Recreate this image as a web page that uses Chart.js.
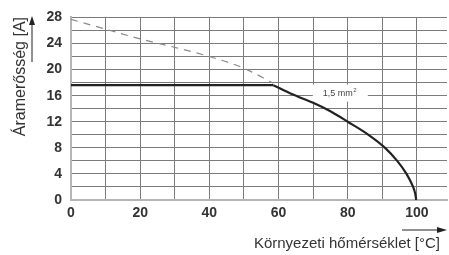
<!DOCTYPE html>
<html>
<head>
<meta charset="utf-8">
<script src="https://cdn.jsdelivr.net/npm/chart.js@4.4.0/dist/chart.umd.min.js"></script>
<style>
  html, body { margin: 0; padding: 0; background: #fff; }
  #wrap { width: 449px; height: 255px; position: relative; }
</style>
</head>
<body>
<div id="wrap"><canvas id="chart"></canvas></div>
<script>
// derating curve, 1,5 mm2
const flatTemp = [0, 58.5];
const flatCurrent = [17.6, 17.6];

const curveTemp = [58.5, 64, 70, 75, 80, 86, 90.8, 94.3, 97, 98.9, 99.5, 99.8];
const curveCurrent = [17.6, 16.2, 14.9, 13.6, 12.0, 10.0, 8.0, 6.0, 4.0, 2.0, 1.0, 0];

const dashTemp = [0, 10, 20, 30, 40, 50, 58.5];
const dashCurrent = [27.7, 26.2, 24.7, 23.4, 22.0, 20.2, 17.9];

const xGrid = [0, 10, 20, 30, 40, 50, 60, 70, 80, 90, 100];
const yGrid = [0, 2, 4, 6, 8, 10, 12, 14, 16, 18, 20, 22, 24, 26, 28];

const seriesLabel = '1,5 mm²';
const xTitle = 'Környezeti hőmérséklet [°C]';
const yTitle = 'Áramerősség [A]';

const toPoints = (xs, ys) => xs.map((x, i) => ({ x: x, y: ys[i] }));

const ctx = document.getElementById('chart');

const extras = {
    id: 'extras',
    beforeDatasetsDraw(chart) {
        const c = chart.ctx;
        const xs = chart.scales.x;
        const ys = chart.scales.y;
        c.save();
        // curve label with white box
        const lx = xs.getPixelForValue(72.8);
        const ly = ys.getPixelForValue(16.3);
        c.fillStyle = '#fff';
        c.fillRect(lx - 10, ly - 9, 55, 17);
        c.fillStyle = '#444';
        c.font = '9px Arial, "Liberation Sans"';
        c.textBaseline = 'middle';
        c.textAlign = 'left';
        c.fillText('1,5 mm', lx, ly);
        const w = c.measureText('1,5 mm').width;
        c.font = '6px Arial, "Liberation Sans"';
        c.fillText('2', lx + w + 0.5, ly - 3);
        c.restore();
    },
    afterDraw(chart) {
        const c = chart.ctx;
        c.save();

        // axis titles
        c.fillStyle = '#333';
        c.font = '15px Arial, "Liberation Sans"';
        c.textAlign = 'right';
        c.textBaseline = 'alphabetic';
        c.fillText(xTitle, 440, 248);

        c.save();
        c.translate(25, 17);
        c.rotate(-Math.PI / 2);
        c.font = '16px Arial, "Liberation Sans"';
        c.textAlign = 'right';
        c.fillText(yTitle, 0, 0);
        c.restore();

        // arrows
        c.strokeStyle = '#222';
        c.fillStyle = '#222';
        c.lineWidth = 1;
        c.beginPath();
        c.moveTo(32, 62);
        c.lineTo(32, 24);
        c.stroke();
        c.beginPath();
        c.moveTo(32, 16);
        c.lineTo(29, 25);
        c.lineTo(35, 25);
        c.closePath();
        c.fill();

        c.beginPath();
        c.moveTo(402, 230);
        c.lineTo(439, 230);
        c.stroke();
        c.beginPath();
        c.moveTo(447, 230);
        c.lineTo(437, 227);
        c.lineTo(437, 233);
        c.closePath();
        c.fill();

        c.restore();
    }
};

new Chart(ctx, {
    type: 'scatter',
    data: {
        datasets: [{
            label: seriesLabel,
            data: toPoints(flatTemp, flatCurrent),
            showLine: true,
            borderColor: '#222',
            borderWidth: 2.2,
            pointRadius: 0,
            tension: 0
        }, {
            label: seriesLabel,
            data: toPoints(curveTemp, curveCurrent),
            showLine: true,
            borderColor: '#222',
            borderWidth: 2.2,
            pointRadius: 0,
            cubicInterpolationMode: 'monotone'
        }, {
            label: 'dashed',
            data: toPoints(dashTemp, dashCurrent),
            showLine: true,
            borderColor: '#8a8a8a',
            borderWidth: 1.2,
            borderDash: [7, 6],
            pointRadius: 0,
            cubicInterpolationMode: 'monotone'
        }]
    },
    options: {
        responsive: true,
        maintainAspectRatio: false,
        animation: false,
        layout: { padding: { left: 0, right: 2, top: 17, bottom: 0 } },
        plugins: {
            legend: { display: false },
            tooltip: { enabled: false }
        },
        scales: {
            x: {
                type: 'linear',
                min: 0,
                max: 108.7,
                afterFit: (s) => { s.height = 55; },
                afterBuildTicks: (s) => {
                    s.ticks = xGrid.map(v => ({ value: v }));
                },
                ticks: {
                    padding: 5,
                    color: '#333',
                    font: { family: 'Arial, "Liberation Sans"', size: 14, weight: 'bold' },
                    maxRotation: 0,
                    autoSkip: false,
                    callback: (v) => (v % 20 === 0 ? v : '')
                },
                grid: { color: '#7a7a7a', lineWidth: 1, drawTicks: false },
                border: { color: '#b5b5b5', width: 2 }
            },
            y: {
                min: 0,
                max: 28,
                afterFit: (s) => { s.width = 71; },
                afterBuildTicks: (s) => {
                    s.ticks = yGrid.map(v => ({ value: v }));
                },
                ticks: {
                    padding: 9,
                    color: '#333',
                    font: { family: 'Arial, "Liberation Sans"', size: 14, weight: 'bold' },
                    autoSkip: false,
                    callback: (v) => (v % 4 === 0 ? v : '')
                },
                grid: { color: '#7a7a7a', lineWidth: 1, drawTicks: false },
                border: { color: '#b5b5b5', width: 2 }
            }
        }
    },
    plugins: [extras]
});
</script>
</body>
</html>
